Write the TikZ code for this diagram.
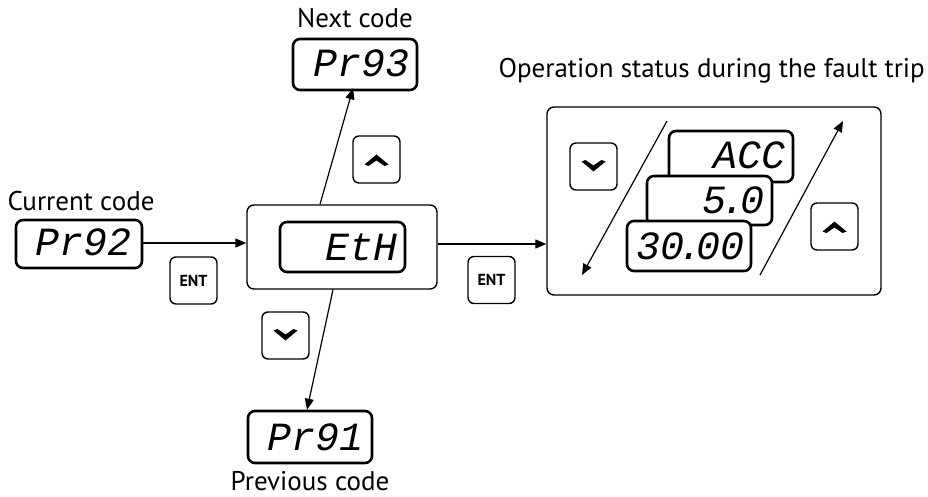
\documentclass[tikz,border=0pt]{standalone}
\usepackage{fontspec}
\setmainfont{PT Sans}
\newfontfamily\segfont{Liberation Mono}
\usetikzlibrary{arrows.meta,calc}
\tikzset{
  x=1pt, y=-1pt,
  disp/.style={draw, line width=2.6pt, rounded corners=7pt, fill=white, inner sep=0pt},
  btn/.style={draw, line width=1.4pt, rounded corners=6pt, minimum width=47pt, minimum height=47pt, inner sep=0pt},
  frame/.style={draw, line width=1.4pt, rounded corners=7pt, inner sep=0pt},
  seg/.style={font=\segfont\itshape\fontsize{40}{40}\selectfont, inner sep=0pt, anchor=east},
  lbl/.style={font=\fontsize{27}{30}\selectfont, inner sep=0pt},
  arr/.style={line width=1.2pt, -{Triangle[length=11pt,width=9pt]}},
  entlbl/.style={font=\bfseries\fontsize{16}{16}\selectfont}
}
\newcommand{\chevup}[1]{\fill #1 ++(-12,5) -- ++(12,-10) -- ++(12,10) -- ++(-4,1.5) -- ++(-8,-5.5) -- ++(-8,5.5) -- cycle;}
\newcommand{\chevdn}[1]{\fill #1 ++(-12,-5) -- ++(12,10) -- ++(12,-10) -- ++(-4,-1.5) -- ++(-8,5.5) -- ++(-8,-5.5) -- cycle;}
\begin{document}
\begin{tikzpicture}
\useasboundingbox (0,0) rectangle (928,497);

% current code
\node[lbl] (lcur) at (81,201) {Current code};
\node[disp, minimum width=126pt, minimum height=48pt] (pr92) at (79,244) {};
\node[seg] (tpr92) at ($(pr92.east)+(-12,-2)$) {Pr92};

% central
\node[frame, minimum width=190pt, minimum height=84pt] (mid) at (342,247) {};
\node[disp, minimum width=125pt, minimum height=50pt] (midd) at (342.5,247) {};
\node[seg] (tmid) at ($(midd.east)+(-9,0)$) {EtH};

% next
\node[lbl] (lnext) at (355,18) {Next code};
\node[disp, minimum width=124pt, minimum height=51pt] (pr93) at (355,64.5) {};
\node[seg] (tpr93) at ($(pr93.east)+(-9,-1)$) {Pr93};
\node[btn] (up1) at (376.5,159.5) {};
\chevup{(up1.center)}

% previous
\node[btn] (dn1) at (285.5,335.5) {};
\chevdn{(dn1.center)}
\node[disp, minimum width=124pt, minimum height=52pt] (pr91) at (310,437) {};
\node[seg] (tpr91) at ($(pr91.east)+(-10,0)$) {Pr91};
\node[lbl] (lprev) at (310,481) {Previous code};

% ENT buttons
\node[btn] (ent1) at (193.5,280.5) {};
\node[entlbl] at (ent1.center) {ENT};
\node[btn] (ent2) at (491.5,280) {};
\node[entlbl] at (ent2.center) {ENT};

% right panel
\node[lbl, anchor=east] (lop) at (925,71) {Operation status during the fault trip};
\node[frame, minimum width=334pt, minimum height=188pt] (panel) at (714,201) {};
\node[btn] (dn2) at (593.5,166.5) {};
\chevdn{(dn2.center)}
\node[btn] (up2) at (834.5,226.5) {};
\chevup{(up2.center)}
\node[disp, minimum width=124pt, minimum height=51pt] (acc) at (731,156.5) {};
\node[seg] at ($(acc.east)+(-9,-1)$) {ACC};
\node[disp, minimum width=125pt, minimum height=49pt] (five) at (709.5,200.5) {};
\node[seg] at ($(five.east)+(-9,0)$) {5\kern-5pt.\kern-5pt0};
\node[disp, minimum width=124pt, minimum height=50pt] (thirty) at (689,246) {};
\node[seg] at ($(thirty.east)+(-8,0)$) {30\kern-6pt.\kern-6pt00};

\coordinate (la) at (667,121);
\coordinate (lb) at (582,275);
\coordinate (ra) at (760,275);
\coordinate (rb) at (843,121);
\draw[arr] (la) -- (lb);
\draw[arr] (ra) -- (rb);

% connectors
\draw[arr] (pr92.east |- 0,243) -- (mid.west |- 0,243);
\draw[arr] (mid.east |- 0,244) -- (panel.west |- 0,244);
\draw[arr] ($(mid.north)+(-22,0)$) -- ($(pr93.south)+(-2,-3)$);
\draw[arr] ($(mid.south)+(-9,0)$) -- ($(pr91.north)+(-3,0)$);
\end{tikzpicture}
\end{document}
